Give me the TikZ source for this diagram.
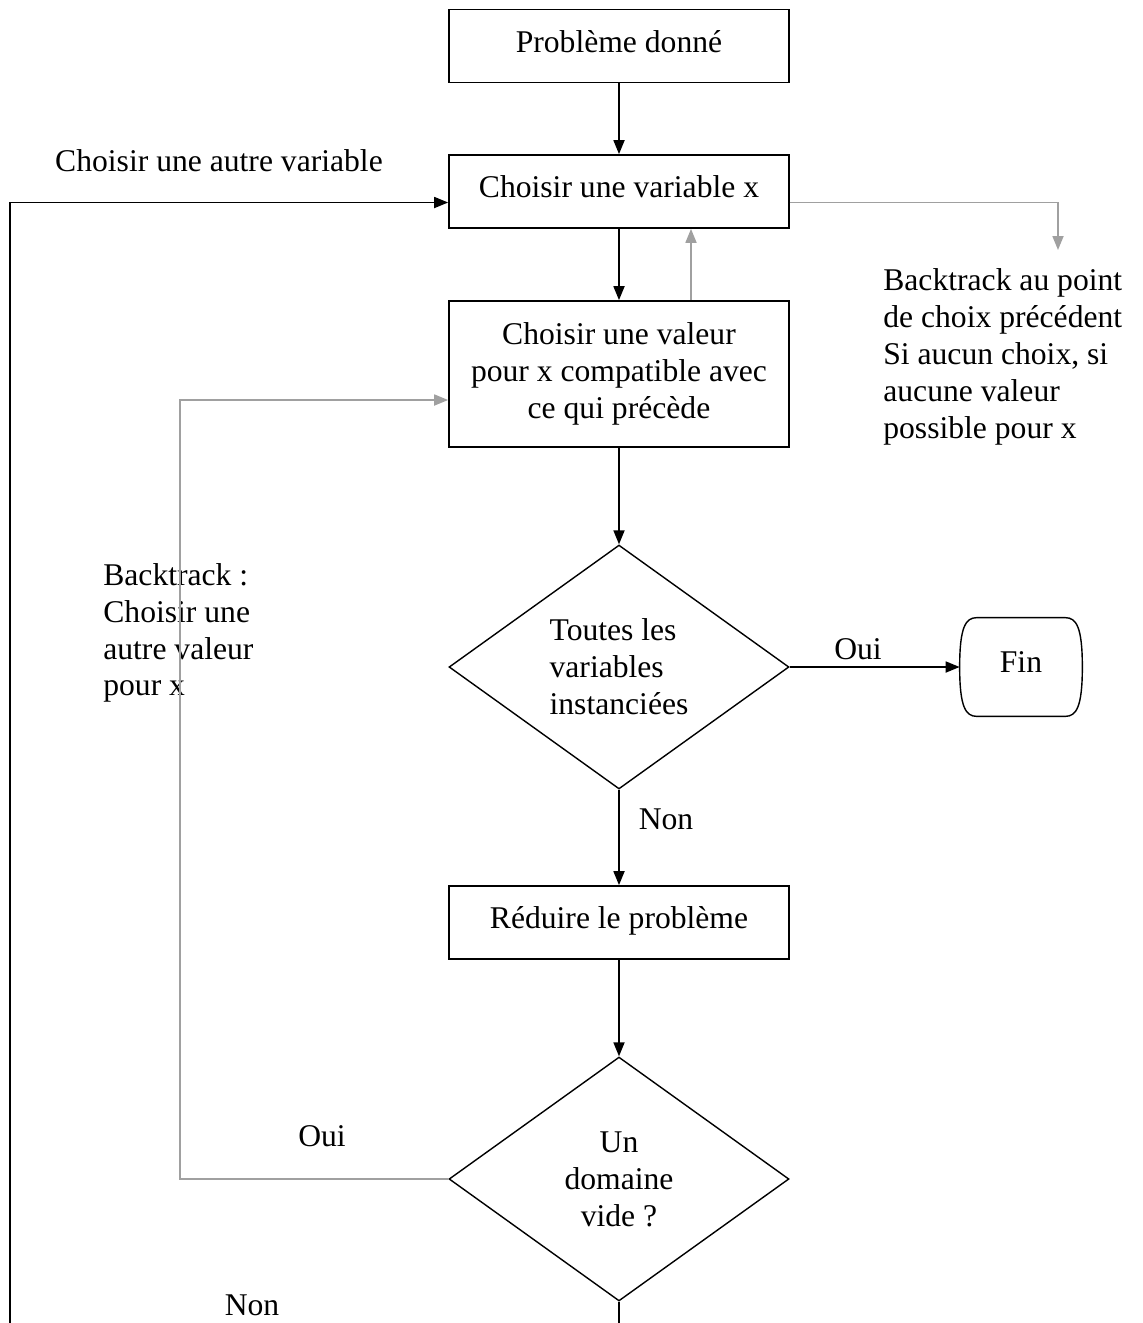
\documentclass[tikz,border=0pt]{standalone}
\usepackage{fontspec}
\setmainfont{Liberation Serif}
\usetikzlibrary{shapes.geometric,arrows.meta,calc}
\definecolor{grisclair}{HTML}{A0A0A0}

\begin{document}
\begin{tikzpicture}[x=0.02cm,y=-0.02cm,
    every node/.style={font=\fontsize{18}{21}\selectfont},
    boite/.style={draw,line width=1pt,minimum width=6.8cm,minimum height=1.46cm,align=center},
    uneligne/.style={text depth=0.2cm},
    losange/.style={draw,line width=0.8pt,diamond,aspect=1.39,inner sep=0pt,minimum width=6.8cm,minimum height=4.88cm},
    etiq/.style={inner sep=0pt},
    fleche/.style={line width=1pt,-{Triangle[length=2.8mm,width=2.2mm]}},
    gris/.style={grisclair,line width=1pt,-{Triangle[length=2.8mm,width=2.2mm]}}]
    \useasboundingbox (0,0) rectangle (1143,1323);
    \node[boite,uneligne] (pb) at (619,46) {Problème donné};
    \node[boite,uneligne] (var) at (619,191.5) {Choisir une variable x};
    \node[boite,minimum height=2.92cm] (val) at (619,374) {Choisir une valeur\\pour x compatible avec\\ce qui précède};
    \node[losange,align=left] (tout) at (619,667) {Toutes les\\variables\\instanciées};
    \node[uneligne,minimum width=2.44cm,minimum height=1.96cm] (fin) at (1021,667) {Fin};
    \draw[line width=0.8pt] ($(fin.north west)+(17,0)$) -- ($(fin.north east)+(-17,0)$)
        .. controls ($(fin.north east)+(-6,0)$) and ($(fin.east)+(0,-40)$) .. (fin.east)
        .. controls ($(fin.east)+(0,40)$) and ($(fin.south east)+(-6,0)$) .. ($(fin.south east)+(-17,0)$)
        -- ($(fin.south west)+(17,0)$)
        .. controls ($(fin.south west)+(6,0)$) and ($(fin.west)+(0,40)$) .. (fin.west)
        .. controls ($(fin.west)+(0,-40)$) and ($(fin.north west)+(6,0)$) .. cycle;
    \node[boite,uneligne] (red) at (619,922.5) {Réduire le problème};
    \node[losange,align=center] (vide) at (619,1179) {Un\\domaine\\vide ?};

    \node[etiq] (autrevar) at (219,161) {Choisir une autre variable};
    \node[etiq,align=left,anchor=west] (bt) at (883,357) {Backtrack au point\\de choix précédent\\Si aucun choix, si\\aucune valeur\\possible pour x};
    \node[etiq,align=left,anchor=west] (btval) at (103,633) {Backtrack :\\Choisir une\\autre valeur\\pour x};
    \node[etiq] (oui1) at (858,649) {Oui};
    \node[etiq] (non1) at (666,819) {Non};
    \node[etiq] (oui2) at (322,1136) {Oui};
    \node[etiq] (non2) at (252,1305) {Non};

    \coordinate (btfin) at (1058,250);
    \coordinate (gauche) at (10,1330);
    \coordinate (bas) at (619,1330);

    \draw[fleche] (pb) -- (var);
    \draw[fleche] (var) -- (val);
    \draw[gris] ($(val.north)+(72,0)$) -- ($(var.south)+(72,0)$);
    \draw[gris] ($(var.east)+(0,11)$) -| (btfin);
    \draw[fleche] (val) -- (tout);
    \draw[fleche] (tout) -- (fin);
    \draw[fleche] (tout) -- (red);
    \draw[fleche] (red) -- (vide);
    \draw[line width=1pt] (vide.south) -- (bas);
    \draw[gris] (vide.west) -| ($(val.west)+(-268,26)$) -- ($(val.west)+(0,26)$);
    \draw[fleche] (gauche) |- ($(var.west)+(0,11)$);
\end{tikzpicture}
\end{document}
